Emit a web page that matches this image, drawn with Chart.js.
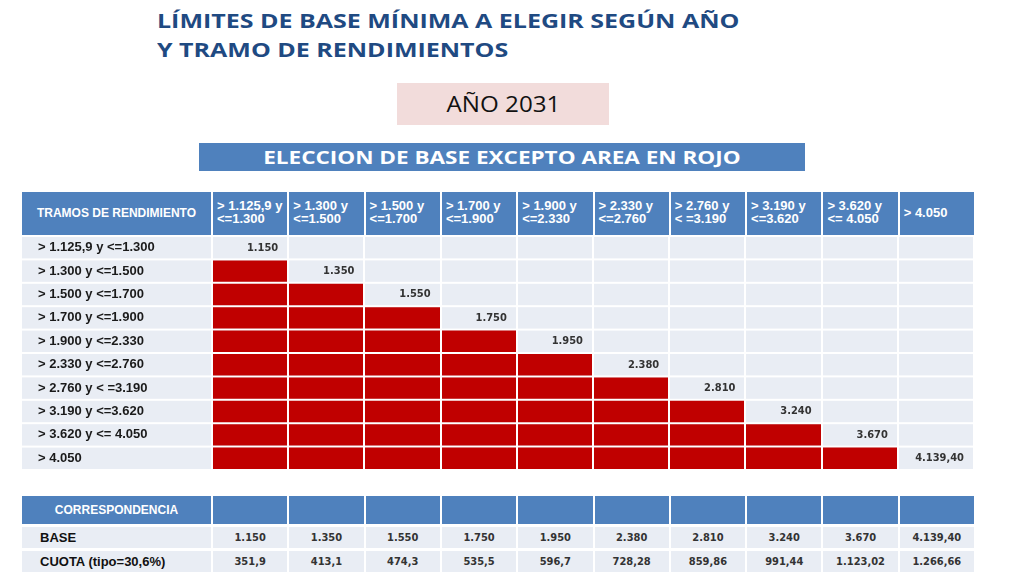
<!DOCTYPE html>
<html lang="es">
<head>
<meta charset="utf-8">
<title>Límites de base mínima - Año 2031</title>
<script src="https://cdn.jsdelivr.net/npm/chart.js@4.4.1/dist/chart.umd.min.js"></script>
<style>
    body { margin: 0; background: #fff; font-family: 'Liberation Sans', Arial, sans-serif; }
    #pagina { position: relative; width: 1024px; height: 576px; overflow: hidden; }
    .titulo { position: absolute; left: 157px; top: 6px; color: #1f4a82; font: bold 20px 'Open Sans', sans-serif; line-height: 29px; transform-origin: left top; transform: scaleX(1.25); white-space: nowrap; }
    .anio { position: absolute; left: 397px; top: 83px; width: 212px; height: 42px; background: #f2dcdb; color: #111; font: 21px 'Open Sans', sans-serif; line-height: 42px; text-align: center; }
    .anio span { display: inline-block; transform: scaleX(1.15); }
    .eleccion { position: absolute; left: 199px; top: 143px; width: 606px; height: 28px; background: #4f81bd; color: #fff; font: bold 18px 'Open Sans', sans-serif; line-height: 28px; text-align: center; }
    .eleccion span { display: inline-block; transform: scaleX(1.25); }
    .fila { position: absolute; left: 22px; width: 952px; display: grid; grid-template-columns: 189px repeat(10, 1fr); column-gap: 2px; }
    .fila div { display: flex; align-items: center; box-sizing: border-box; }
    #cabecera { top: 192px; height: 43px; }
    #cabecera div { background: #4f81bd; color: #fff; font-weight: bold; font-size: 13px; line-height: 13px; white-space: pre-line; padding: 0 0 3px 4px; }
    #cabecera div.primera { justify-content: center; font-size: 12px; padding: 0; }
    #tabla { position: absolute; left: 22px; top: 236px; width: 952px; height: 234px; }
    .corr div { background: #e9edf4; color: #333; font: bold 11px 'DejaVu Sans Condensed', 'DejaVu Sans', sans-serif; justify-content: center; }
    .corr div.primera { justify-content: flex-start; padding-left: 18px; color: #111; font: bold 13px 'Liberation Sans', Arial, sans-serif; }
    .corr.azul div { background: #4f81bd; color: #fff; }
    .corr.azul div.primera { justify-content: center; padding-left: 0; color: #fff; font-size: 12px; }
</style>
</head>
<body>
<div id="pagina">
    <div class="titulo">LÍMITES DE BASE MÍNIMA A ELEGIR SEGÚN AÑO<br>Y TRAMO DE RENDIMIENTOS</div>
    <div class="anio"><span>AÑO 2031</span></div>
    <div class="eleccion"><span>ELECCION DE BASE EXCEPTO AREA EN ROJO</span></div>
    <div class="fila" id="cabecera"></div>
    <div id="tabla"><canvas id="tramos"></canvas></div>
    <div class="fila corr azul" id="corrCabecera" style="top:496px;height:28px"></div>
    <div class="fila corr" id="corrBase" style="top:527px;height:21px"></div>
    <div class="fila corr" id="corrCuota" style="top:551px;height:21px"></div>
</div>
<script>
// Datos del cuadro
const tramos = ['> 1.125,9 y <=1.300', '> 1.300 y <=1.500', '> 1.500 y <=1.700', '> 1.700 y <=1.900',
    '> 1.900 y <=2.330', '> 2.330 y <=2.760', '> 2.760 y < =3.190', '> 3.190 y <=3.620',
    '> 3.620 y <= 4.050', '> 4.050'];
const columnas = ['> 1.125,9 y\n<=1.300', '> 1.300 y\n<=1.500', '> 1.500 y\n<=1.700', '> 1.700 y\n<=1.900',
    '> 1.900 y\n<=2.330', '> 2.330 y\n<=2.760', '> 2.760 y\n< =3.190', '> 3.190 y\n<=3.620',
    '> 3.620 y\n<= 4.050', '> 4.050'];
const celdasRojas = [0, 1, 2, 3, 4, 5, 6, 7, 8, 9];
const baseMinima = ['1.150', '1.350', '1.550', '1.750', '1.950', '2.380', '2.810', '3.240', '3.670', '4.139,40'];
const cuota = ['351,9', '413,1', '474,3', '535,5', '596,7', '728,28', '859,86', '991,44', '1.123,02', '1.266,66'];

function llenarFila(id, primera, celdas) {
    const fila = document.getElementById(id);
    [primera].concat(celdas).forEach((texto, i) => {
        const div = document.createElement('div');
        if (i === 0) div.className = 'primera';
        div.textContent = texto;
        fila.appendChild(div);
    });
}

llenarFila('cabecera', 'TRAMOS DE RENDIMIENTO', columnas);
llenarFila('corrCabecera', 'CORRESPONDENCIA', columnas.map(() => ''));
llenarFila('corrBase', 'BASE', baseMinima);
llenarFila('corrCuota', 'CUOTA (tipo=30,6%)', cuota);

// Fondo gris azulado de cada fila (incluida la columna de tramos)
const fondoFilas = {
    id: 'fondoFilas',
    beforeDraw(chart) {
        const { ctx, chartArea, scales: { y } } = chart;
        const alto = y.height / tramos.length;
        ctx.save();
        ctx.fillStyle = '#e9edf4';
        tramos.forEach((t, i) => {
            const yc = y.getPixelForValue(i);
            ctx.fillRect(0, yc - alto / 2 + 1, chartArea.right, alto - 2);
        });
        ctx.restore();
    }
};

// Base mínima escrita en la primera celda libre de cada fila
const valoresBase = {
    id: 'valoresBase',
    afterDatasetsDraw(chart) {
        const { ctx, scales: { x, y } } = chart;
        ctx.save();
        ctx.fillStyle = '#333';
        ctx.font = "bold 11px 'DejaVu Sans Condensed', 'DejaVu Sans', sans-serif";
        ctx.textAlign = 'right';
        ctx.textBaseline = 'middle';
        baseMinima.forEach((v, i) => {
            ctx.fillText(v, x.getPixelForValue(celdasRojas[i] + 1) - 10, y.getPixelForValue(i));
        });
        ctx.restore();
    }
};

document.addEventListener("DOMContentLoaded", function () {
    const ctx = document.getElementById('tramos').getContext('2d');

    new Chart(ctx, {
        type: 'bar',
        data: {
            labels: tramos,
            datasets: [{
                label: 'Área en rojo',
                data: celdasRojas.map(n => [0, n]),
                backgroundColor: '#c00000',
                borderWidth: 0,
                categoryPercentage: 1,
                barPercentage: 0.915
            }]
        },
        options: {
            indexAxis: 'y',
            responsive: true,
            maintainAspectRatio: false,
            animation: false,
            layout: { padding: { left: 16, right: 0, top: 0, bottom: 0 } },
            scales: {
                x: {
                    type: 'linear',
                    min: 0,
                    max: 10,
                    ticks: { display: false, stepSize: 1 },
                    border: { display: false },
                    grid: { color: '#fff', lineWidth: 2, drawTicks: false, z: 1 },
                    afterFit: s => { s.height = 0; }
                },
                y: {
                    grid: { display: false },
                    border: { display: false },
                    ticks: {
                        crossAlign: 'far',
                        padding: 0,
                        color: '#1a1a1a',
                        font: { family: "'Liberation Sans', Arial, sans-serif", size: 13, weight: 'bold' }
                    },
                    afterFit: s => {
                        s.width = 174;
                        s.paddingTop = 0;
                        s.paddingBottom = 0;
                    }
                }
            },
            plugins: {
                legend: { display: false },
                tooltip: { enabled: false }
            }
        },
        plugins: [fondoFilas, valoresBase]
    });
});
</script>
</body>
</html>
